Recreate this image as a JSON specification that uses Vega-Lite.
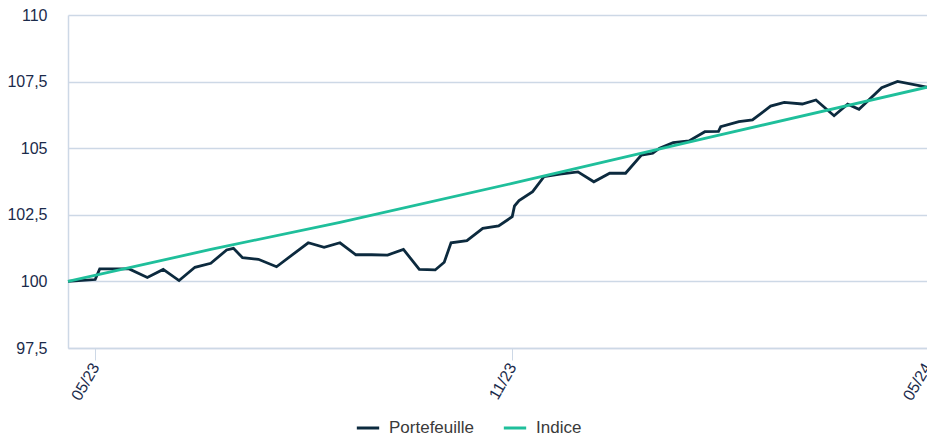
{
  "$schema": "https://vega.github.io/schema/vega-lite/v6.json",
  "width": 859,
  "height": 333,
  "autosize": {"type": "none"},
  "padding": {"left": 68, "top": 15, "right": 0, "bottom": 86},
  "background": "white",
  "config": {
    "view": {"stroke": null},
    "font": "Liberation Sans"
  },
  "data": {
    "values": [
      {"d": "2023-04-19", "s": "Portefeuille", "v": 100.0},
      {"d": "2023-05-01", "s": "Portefeuille", "v": 100.07},
      {"d": "2023-05-03", "s": "Portefeuille", "v": 100.47},
      {"d": "2023-05-16", "s": "Portefeuille", "v": 100.47},
      {"d": "2023-05-24", "s": "Portefeuille", "v": 100.15},
      {"d": "2023-05-31", "s": "Portefeuille", "v": 100.45},
      {"d": "2023-06-07", "s": "Portefeuille", "v": 100.03},
      {"d": "2023-06-14", "s": "Portefeuille", "v": 100.53},
      {"d": "2023-06-21", "s": "Portefeuille", "v": 100.68},
      {"d": "2023-06-28", "s": "Portefeuille", "v": 101.18},
      {"d": "2023-07-01", "s": "Portefeuille", "v": 101.24},
      {"d": "2023-07-05", "s": "Portefeuille", "v": 100.89},
      {"d": "2023-07-12", "s": "Portefeuille", "v": 100.83},
      {"d": "2023-07-20", "s": "Portefeuille", "v": 100.55},
      {"d": "2023-08-03", "s": "Portefeuille", "v": 101.45},
      {"d": "2023-08-10", "s": "Portefeuille", "v": 101.28},
      {"d": "2023-08-17", "s": "Portefeuille", "v": 101.45},
      {"d": "2023-08-24", "s": "Portefeuille", "v": 101.0},
      {"d": "2023-08-31", "s": "Portefeuille", "v": 101.0},
      {"d": "2023-09-07", "s": "Portefeuille", "v": 100.99},
      {"d": "2023-09-14", "s": "Portefeuille", "v": 101.2},
      {"d": "2023-09-21", "s": "Portefeuille", "v": 100.45},
      {"d": "2023-09-28", "s": "Portefeuille", "v": 100.43},
      {"d": "2023-10-02", "s": "Portefeuille", "v": 100.72},
      {"d": "2023-10-05", "s": "Portefeuille", "v": 101.45},
      {"d": "2023-10-12", "s": "Portefeuille", "v": 101.53},
      {"d": "2023-10-19", "s": "Portefeuille", "v": 101.99},
      {"d": "2023-10-26", "s": "Portefeuille", "v": 102.08},
      {"d": "2023-11-01", "s": "Portefeuille", "v": 102.43},
      {"d": "2023-11-02", "s": "Portefeuille", "v": 102.83},
      {"d": "2023-11-04", "s": "Portefeuille", "v": 103.03},
      {"d": "2023-11-10", "s": "Portefeuille", "v": 103.37},
      {"d": "2023-11-15", "s": "Portefeuille", "v": 103.93},
      {"d": "2023-11-22", "s": "Portefeuille", "v": 104.03},
      {"d": "2023-11-30", "s": "Portefeuille", "v": 104.11},
      {"d": "2023-12-07", "s": "Portefeuille", "v": 103.74},
      {"d": "2023-12-14", "s": "Portefeuille", "v": 104.06},
      {"d": "2023-12-21", "s": "Portefeuille", "v": 104.06},
      {"d": "2023-12-28", "s": "Portefeuille", "v": 104.74},
      {"d": "2024-01-02", "s": "Portefeuille", "v": 104.81},
      {"d": "2024-01-05", "s": "Portefeuille", "v": 105.0},
      {"d": "2024-01-11", "s": "Portefeuille", "v": 105.21},
      {"d": "2024-01-18", "s": "Portefeuille", "v": 105.27},
      {"d": "2024-01-25", "s": "Portefeuille", "v": 105.62},
      {"d": "2024-01-31", "s": "Portefeuille", "v": 105.63},
      {"d": "2024-02-01", "s": "Portefeuille", "v": 105.81},
      {"d": "2024-02-09", "s": "Portefeuille", "v": 106.0},
      {"d": "2024-02-15", "s": "Portefeuille", "v": 106.06},
      {"d": "2024-02-23", "s": "Portefeuille", "v": 106.58},
      {"d": "2024-02-29", "s": "Portefeuille", "v": 106.72},
      {"d": "2024-03-08", "s": "Portefeuille", "v": 106.66},
      {"d": "2024-03-14", "s": "Portefeuille", "v": 106.81},
      {"d": "2024-03-22", "s": "Portefeuille", "v": 106.22},
      {"d": "2024-03-28", "s": "Portefeuille", "v": 106.65},
      {"d": "2024-04-02", "s": "Portefeuille", "v": 106.46},
      {"d": "2024-04-12", "s": "Portefeuille", "v": 107.27},
      {"d": "2024-04-19", "s": "Portefeuille", "v": 107.51},
      {"d": "2024-05-02", "s": "Portefeuille", "v": 107.29},
      {"d": "2023-04-19", "s": "Indice", "v": 100.0},
      {"d": "2023-06-21", "s": "Indice", "v": 101.2},
      {"d": "2023-08-17", "s": "Indice", "v": 102.22},
      {"d": "2023-11-01", "s": "Indice", "v": 103.68},
      {"d": "2024-01-25", "s": "Indice", "v": 105.37},
      {"d": "2024-05-02", "s": "Indice", "v": 107.29}
    ]
  },
  "mark": {"type": "line", "strokeWidth": 2.8, "clip": false},
  "encoding": {
    "x": {
      "field": "d",
      "type": "temporal",
      "title": null,
      "scale": {
        "type": "utc",
        "domain": [
          {"year": 2023, "month": 4, "date": 19, "utc": true},
          {"year": 2024, "month": 5, "date": 2, "utc": true}
        ]
      },
      "axis": {
        "values": [
          {"year": 2023, "month": 5, "date": 1, "utc": true},
          {"year": 2023, "month": 11, "date": 1, "utc": true},
          {"year": 2024, "month": 5, "date": 2, "utc": true}
        ],
        "format": "%m/%y",
        "labelAngle": -60,
        "labelFontSize": 16,
        "labelColor": "#1b2b4b",
        "labelPadding": 4,
        "tickSize": 12,
        "tickColor": "#cdd8e6",
        "domainColor": "#cdd8e6",
        "domainWidth": 1.5,
        "grid": false
      }
    },
    "y": {
      "field": "v",
      "type": "quantitative",
      "title": null,
      "scale": {"domain": [97.5, 110], "nice": false, "zero": false},
      "axis": {
        "values": [97.5, 100, 102.5, 105, 107.5, 110],
        "labelExpr": "replace(format(datum.value, '.1~f'), '.', ',')",
        "labelFontSize": 16,
        "labelColor": "#1b2b4b",
        "ticks": false,
        "tickSize": 0,
        "labelPadding": 21,
        "domainColor": "#cdd8e6",
        "domainWidth": 1.5,
        "gridColor": "#cdd8e6",
        "gridWidth": 1.5
      }
    },
    "color": {
      "field": "s",
      "type": "nominal",
      "title": null,
      "scale": {"domain": ["Portefeuille", "Indice"], "range": ["#0c2a3e", "#1fbf9b"]},
      "legend": {
        "orient": "none",
        "direction": "horizontal",
        "legendX": 287,
        "legendY": 400,
        "padding": 0,
        "symbolType": "stroke",
        "symbolStrokeWidth": 3,
        "symbolSize": 500,
        "labelFontSize": 17,
        "labelColor": "#3a3a3a",
        "labelOffset": 8,
        "columnPadding": 22
      }
    },
    "order": {"field": "d", "type": "temporal"}
  }
}
